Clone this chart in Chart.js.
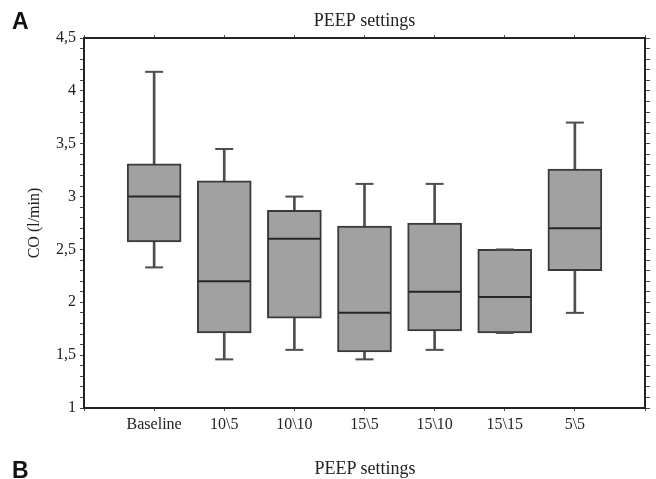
<!DOCTYPE html>
<html>
<head>
<meta charset="utf-8">
<script src="https://cdn.jsdelivr.net/npm/chart.js@4"></script>
<style>
  html, body { margin: 0; padding: 0; background: #fff; }
  #wrap { position: relative; width: 656px; height: 479px; }
  canvas { position: absolute; left: 0; top: 0; }
  .panel { position: absolute; font: bold 23px "Liberation Sans", Arial, sans-serif; line-height: 1; color: #111; }
  .sub { position: absolute; font: 18px "Liberation Serif", "Times New Roman", serif; line-height: 1; color: #222; text-align: center; }
</style>
</head>
<body>
<div id="wrap">
  <canvas id="chart" width="656" height="479"></canvas>
  <div class="panel" style="left:12px; top:10px;">A</div>
  <div class="panel" style="left:12px; top:459px;">B</div>
  <div class="sub" style="left:265px; top:459px; width:200px;">PEEP settings</div>
</div>
<script>
// Werte (CO in l/min)
const categories = ['Baseline', '10\\5', '10\\10', '15\\5', '15\\10', '15\\15', '5\\5'];
const whiskerLow = [2.33, 1.46, 1.55, 1.46, 1.55, 1.71, 1.90];
const q1 = [2.57, 1.71, 1.85, 1.53, 1.73, 1.71, 2.30];
const median = [3.00, 2.20, 2.60, 1.90, 2.10, 2.05, 2.70];
const q3 = [3.31, 3.15, 2.87, 2.72, 2.75, 2.50, 3.26];
const whiskerHigh = [4.18, 3.45, 3.00, 3.12, 3.12, 2.50, 3.70];

const serif = '"Liberation Serif", "Times New Roman", serif';
const whiskerColor = '#4e4e4e';

// Hilfsfunktionen für die Punkte / Balken
function range(lo, hi) {
    return categories.map((c, i) => ({ x: i + 1, y: [lo[i], hi[i]] }));
}
function points(vals) {
    return categories.map((c, i) => ({ x: i + 1, y: vals[i] }));
}

function commaLabel(v) {
    const t = Math.round(v * 10);
    if (t % 5 !== 0) return '';
    return (t / 10).toString().replace('.', ',');
}

// feste Achsengrössen, damit die Plotfläche wie im Original liegt
function fixSize(w, h) {
    return s => {
        if (w !== null) s.width = w;
        if (h !== null) s.height = h;
    };
}

const data = {
    datasets: [
        {
            type: 'bar', data: range(whiskerLow, q1), barThickness: 2,
            backgroundColor: whiskerColor, grouped: false, order: 3
        },
        {
            type: 'bar', data: range(q3, whiskerHigh), barThickness: 2,
            backgroundColor: whiskerColor, grouped: false, order: 3
        },
        {
            type: 'bar', data: range(q1, q3), barThickness: 54,
            backgroundColor: '#a1a1a1', borderColor: '#3a3a3a', borderWidth: 2,
            borderSkipped: false, grouped: false, order: 2
        },
        {
            type: 'line', data: points(whiskerLow), showLine: false,
            pointStyle: 'line', pointRadius: 9, pointBorderWidth: 2,
            pointBorderColor: whiskerColor, order: 1
        },
        {
            type: 'line', data: points(whiskerHigh), showLine: false,
            pointStyle: 'line', pointRadius: 9, pointBorderWidth: 2,
            pointBorderColor: whiskerColor, order: 1
        },
        {
            type: 'line', data: points(median), showLine: false,
            pointStyle: 'line', pointRadius: 26, pointBorderWidth: 2,
            pointBorderColor: '#262626', order: 0
        }
    ]
};

const config = {
    type: 'bar',
    data: data,
    options: {
        responsive: false,
        animation: false,
        events: [],
        // autoPadding aus: sonst schiebt der Punktradius (Median-Linie) die Plotfläche nach innen
        layout: { padding: 0, autoPadding: false },
        plugins: { legend: { display: false }, tooltip: { enabled: false } },
        scales: {
            x: {
                type: 'linear', position: 'bottom', min: 0, max: 8, offset: false,
                ticks: {
                    stepSize: 1, autoSkip: false, maxRotation: 0, padding: 4,
                    color: '#222', font: { family: serif, size: 16 },
                    callback: v => categories[v - 1] || ''
                },
                grid: { drawOnChartArea: false, offset: false, tickLength: 3, color: '#555' },
                border: { color: '#222', width: 2 },
                afterFit: fixSize(null, 71)
            },
            x2: {
                type: 'linear', position: 'top', min: 0, max: 8, offset: false,
                ticks: { stepSize: 1, callback: () => '' },
                grid: { drawOnChartArea: false, offset: false, tickLength: 3, color: '#555' },
                border: { color: '#222', width: 2 },
                title: {
                    display: true, text: 'PEEP settings', color: '#222',
                    font: { family: serif, size: 18 }, padding: { top: 10, bottom: 0 }
                },
                afterFit: fixSize(null, 38)
            },
            y: {
                position: 'left', min: 1, max: 4.5,
                ticks: {
                    stepSize: 0.1, autoSkip: false, padding: 4, color: '#222',
                    font: { family: serif, size: 16 }, callback: commaLabel
                },
                grid: { drawOnChartArea: false, tickLength: 4, color: '#444' },
                border: { color: '#222', width: 2 },
                title: {
                    display: true, text: 'CO (l/min)', color: '#222',
                    font: { family: serif, size: 16 }, padding: { top: 25, bottom: 0 }
                },
                afterFit: fixSize(84, null)
            },
            y2: {
                position: 'right', min: 1, max: 4.5,
                ticks: { stepSize: 0.1, autoSkip: false, padding: 0, callback: () => '' },
                grid: { drawOnChartArea: false, tickLength: 5, color: '#444' },
                border: { color: '#222', width: 2 },
                afterFit: fixSize(11, null)
            }
        }
    }
};

const boxChart = new Chart(document.getElementById('chart'), config);
</script>
</body>
</html>
